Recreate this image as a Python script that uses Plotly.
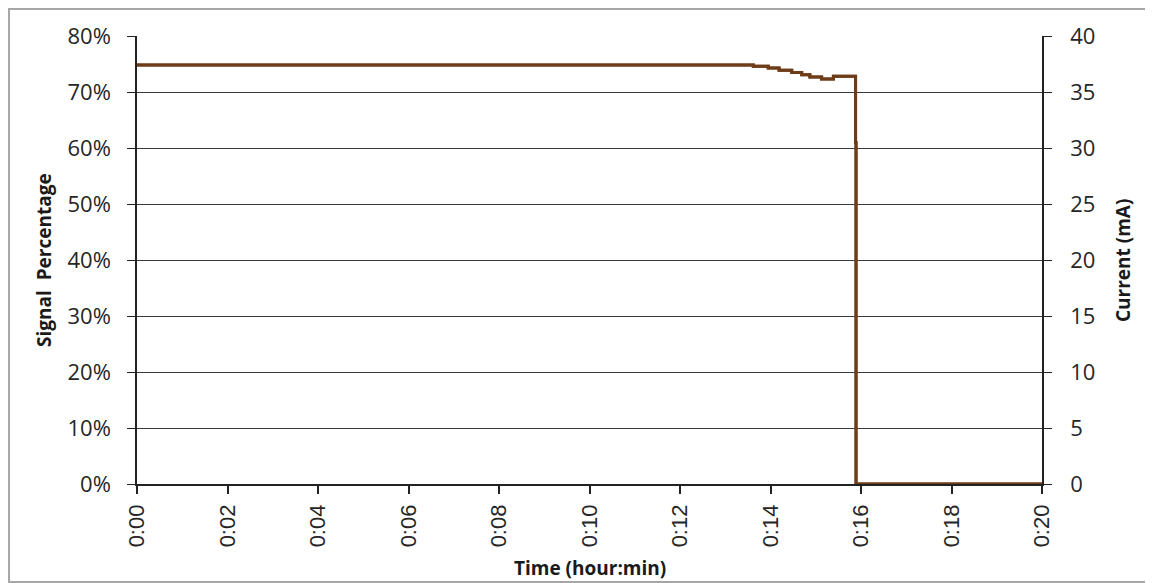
import plotly.graph_objects as go

# Data (time in minutes)
time_min = [0, 13.62, 13.95, 14.19, 14.47, 14.69, 14.87, 15.13, 15.39, 15.88, 15.89, 20]
current_ma = [37.4, 37.3, 37.15, 36.95, 36.75, 36.55, 36.35, 36.15, 36.4, 30.5, 0, 0]
signal_pct = [c * 2 / 100 for c in current_ma]

x_ticks = [0, 2, 4, 6, 8, 10, 12, 14, 16, 18, 20]
x_tick_labels = ["0:00", "0:02", "0:04", "0:06", "0:08", "0:10", "0:12", "0:14", "0:16", "0:18", "0:20"]
y_left_ticks = [0, 0.1, 0.2, 0.3, 0.4, 0.5, 0.6, 0.7, 0.8]
y_right_ticks = [0, 5, 10, 15, 20, 25, 30, 35, 40]

LINE = "#6E3C17"
TICKFONT = dict(family="Open Sans, Noto Sans, sans-serif", size=22, color="#262626")
XTICKFONT = dict(family="Liberation Sans, Arial, sans-serif", size=22, color="#262626")
TITLEFONT = dict(family="Open Sans, Noto Sans, sans-serif", size=19, color="#1a1a1a", weight="bold")

fig = go.Figure()
fig.add_trace(go.Scatter(x=time_min, y=signal_pct, mode="lines", line=dict(color=LINE, width=3, shape="hv"),
                         yaxis="y", showlegend=False, hoverinfo="skip"))
fig.add_trace(go.Scatter(x=time_min, y=current_ma, mode="lines", line=dict(color=LINE, width=3, shape="hv"),
                         yaxis="y2", showlegend=False))

fig.update_layout(
    width=1145, height=575,
    margin=dict(l=129, r=111, t=28, b=99),
    paper_bgcolor="white", plot_bgcolor="white",
    xaxis=dict(range=[0, 20], tickvals=x_ticks, ticktext=x_tick_labels, tickangle=-90,
               showgrid=False, zeroline=False, showline=True, linecolor="#222", linewidth=1.5,
               ticks="outside", ticklen=8, tickcolor="#222", tickwidth=1.5, tickfont=XTICKFONT,
               ticklabelstandoff=2),
    yaxis=dict(range=[0, 0.8], tickvals=y_left_ticks, tickformat=".0%", showgrid=True, gridcolor="#3a3a3a",
               gridwidth=1.3, zeroline=False, showline=True, linecolor="#222", linewidth=1.5,
               ticks="outside", ticklen=8, tickcolor="#222", tickwidth=1.3, tickfont=TICKFONT,
               ticklabelstandoff=12),
    yaxis2=dict(range=[0, 40], tickvals=y_right_ticks, overlaying="y", side="right", showgrid=False,
                zeroline=False, showline=True, linecolor="#222", linewidth=1.5,
                ticks="outside", ticklen=8, tickcolor="#222", tickwidth=1.3, tickfont=TICKFONT,
                ticklabelstandoff=14),
    annotations=[
        dict(text="Signal  Percentage", xref="paper", yref="paper", x=-0.1028, y=0.5, textangle=-90,
             showarrow=False, font=TITLEFONT, xanchor="center", yanchor="middle"),
        dict(text="Current (mA)", xref="paper", yref="paper", x=1.0895, y=0.5, textangle=-90,
             showarrow=False, font=TITLEFONT, xanchor="center", yanchor="middle"),
        dict(text="Time (hour:min)", xref="paper", yref="paper", x=0.5, y=-0.1875,
             showarrow=False, font=TITLEFONT, xanchor="center", yanchor="middle"),
    ],
    shapes=[dict(type="rect", xref="paper", yref="paper", x0=-0.1414, y0=-0.2188, x1=1.1215, y1=1.0603,
                 line=dict(color="#A6A6A6", width=2), layer="below")],
)

fig.write_html("out.html")
